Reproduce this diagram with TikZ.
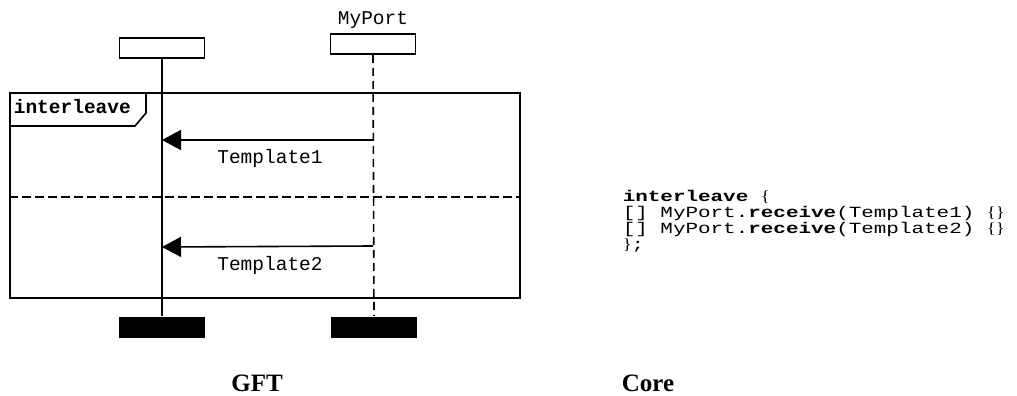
\documentclass[tikz,border=0pt]{standalone}
\usepackage{fontspec}
\setmainfont{Liberation Serif}
\setmonofont{Liberation Mono}
\newfontfamily\codefont[FakeStretch=1.35]{Liberation Mono}
\newfontfamily\codeserif[FakeStretch=1.2]{Liberation Serif}
\usetikzlibrary{arrows.meta}
\begin{document}
\begin{tikzpicture}[x=1pt,y=-1pt,
  line width=1.6pt,
  inst/.style={draw,minimum width=85pt,minimum height=20pt,inner sep=0pt},
  endbox/.style={fill=black,minimum width=86pt,minimum height=21pt,inner sep=0pt},
  lbl/.style={font=\fontsize{19.5}{20}\selectfont\ttfamily,inner sep=0pt,anchor=base},
  code/.style={font=\fontsize{15.5}{16}\selectfont\codefont,inner sep=0pt,anchor=base west},
  captext/.style={font=\fontsize{25}{26}\selectfont\bfseries,inner sep=0pt,anchor=base},
  msg/.style={-{Triangle[length=19pt,width=20pt]}},
  dashline/.style={dash pattern=on 8pt off 5pt}]
\useasboundingbox (0,0) rectangle (1017,396);
% instance heads
\node[inst] (A) at (162,48) {};
\node[inst] (P) at (373,44) {};
\node[lbl] (Pname) at (373,25) {MyPort};
% instance ends
\node[endbox] (Aend) at (162,327.5) {};
\node[endbox] (Pend) at (374,327.5) {};
% frame
\node[draw,minimum width=510pt,minimum height=205pt,inner sep=0pt,anchor=north west] (F) at (9,92) {};
\draw (146,92) -- (146,113) -- (135,126) -- (9,126);
\node[font=\fontsize{19.5}{20}\selectfont\ttfamily\bfseries,inner sep=0pt,anchor=base west] (kw) at (13,113) {interleave};
% separator
\draw[dash pattern=on 9pt off 4pt] (9,197) -- (519,197);
% lifelines
\draw (A.south) -- (Aend.north);
\draw[dashline] (P.south) -- (Pend.north);
% messages
\coordinate (s1) at (P.south |- 0,140);
\coordinate (t1) at (A.south |- 0,140);
\coordinate (s2) at (P.south |- 0,246);
\coordinate (t2) at (A.south |- 0,247);
\draw[msg] (s1) -- (t1);
\draw[msg] (s2) -- (t2);
\node[lbl] (m1) at (270,163) {Template1};
\node[lbl] (m2) at (270,270) {Template2};
% code
\node[code] (c1) at (622,201) {\textbf{interleave} {\codeserif\{}};
\node[code] (c2) at (622,217) {[] MyPort.\textbf{receive}(Template1) {\codeserif\{\}}};
\node[code] (c3) at (622,233) {[] MyPort.\textbf{receive}(Template2) {\codeserif\{\}}};
\node[code] (c4) at (622,249) {{\codeserif\}};};
% captions
\node[captext] (gft) at (257,391) {GFT};
\node[captext] (core) at (648,391) {Core};
\end{tikzpicture}
\end{document}
